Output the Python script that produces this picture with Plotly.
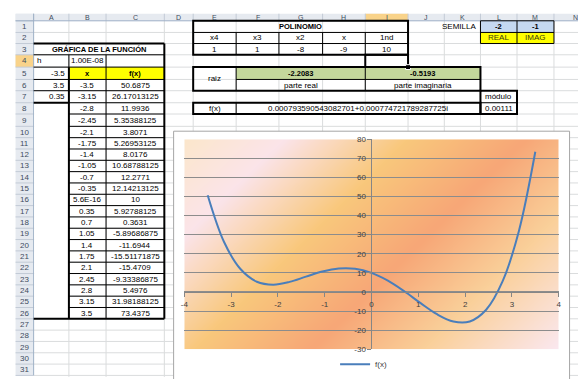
import base64
import struct
import zlib

import numpy as np
import plotly.graph_objects as go

W, H = 578, 379
FONT = "Liberation Sans"

# ---------------- worksheet data ----------------
x_vals = [-3.5, -3.15, -2.8, -2.45, -2.1, -1.75, -1.4, -1.05, -0.7, -0.35, 5.6e-16,
          0.35, 0.7, 1.05, 1.4, 1.75, 2.1, 2.45, 2.8, 3.15, 3.5]
fx_vals = [50.6875, 26.17013125, 11.9936, 5.35388125, 3.8071, 5.26953125, 8.0176,
           10.68788125, 12.2771, 12.14213125, 10, 5.92788125, 0.3631, -5.89686875,
           -11.6944, -15.51171875, -15.4709, -9.33386875, 5.4976, 31.98188125, 73.4375]

coef_labels = ["x4", "x3", "x2", "x", "1nd"]
coef_vals = [1, 1, -8, -9, 10]
range_params = [-3.5, 3.5, 0.35]          # start, end, step
h_step = 1e-8
root_real = -2.2083
root_imag = -0.5193
fx_at_root = "0.000793590543082701+0.000774721789287725i"
modulus = 0.00111
seed_vals = [-2, -1]
seed_labels = ["REAL", "IMAG"]

x_ticks = [-4, -3, -2, -1, 0, 1, 2, 3, 4]
y_ticks = [-30, -20, -10, 0, 10, 20, 30, 40, 50, 60, 70, 80]

# ---------------- sheet geometry (pixels) ----------------
COLS = "ABCDEFGHIJKLMN"
col_edges = [30, 65.7, 103.3, 162.3, 191.5, 235, 278.3, 322.5, 365.7, 409,
             445.7, 482.3, 519.3, 556.7, 600]
row_edges = [17.3, 29.3, 40.7, 52.3, 65, 77.7, 89.3, 101.7, 113.3, 126] + \
            [126 + 11.66 * k for k in range(1, 23)]
HDR_X0, HDR_Y0 = 11.7, 10.0
CHART = (171.7, 131.0, 572.5, 395.0)      # chart object frame
PLOT = (182.5, 139.3, 561.5, 355.5)       # plot area


def cl(c):
    return col_edges[COLS.index(c)]


def cr(c):
    return col_edges[COLS.index(c) + 1]


def ccx(c0, c1=None):
    return (cl(c0) + cr(c1 or c0)) / 2


def rt(r):
    return row_edges[r - 1]


def rb(r):
    return row_edges[r]


def rc(r0, r1=None):
    return (rt(r0) + rb(r1 or r0)) / 2


def px(x):
    return x / W


def py(y):
    return 1 - y / H


shapes = []
annotations = []


def rect(x0, y0, x1, y1, fill=None, line_color=None, lw=0):
    shapes.append(dict(type="rect", xref="paper", yref="paper",
                       x0=px(x0), x1=px(x1), y0=py(y1), y1=py(y0),
                       fillcolor=fill or "rgba(0,0,0,0)",
                       line=dict(color=line_color or "rgba(0,0,0,0)", width=lw),
                       layer="below"))


def seg(x0, y0, x1, y1, color="#000000", lw=1):
    shapes.append(dict(type="line", xref="paper", yref="paper",
                       x0=px(x0), x1=px(x1), y0=py(y0), y1=py(y1),
                       line=dict(color=color, width=lw), layer="below"))


def box(x0, y0, x1, y1, lw=1, color="#000000"):
    rect(x0, y0, x1, y1, line_color=color, lw=lw)


def text(x, y, s, anchor="center", bold=False, size=8, color="#000000"):
    annotations.append(dict(x=px(x), y=py(y), xref="paper", yref="paper",
                            text=f"<b>{s}</b>" if bold else s, showarrow=False,
                            xanchor=anchor, yanchor="middle",
                            font=dict(family=FONT, size=size, color=color)))


def general(v):
    if v != 0 and abs(v) < 1e-9:
        return f"{v:.1E}"
    return f"{v:.10g}"


GRID = "#DADCDD"
HDR_FILL = "#E6EAF0"
HDR_LINE = "#C3CBD6"
HDR_TEXT = "#3E4C5E"
HILITE = "#F9D38A"
BOLD_SIZE = 7.5

# ---- worksheet gridlines (kept out of the chart object) ----
for x in col_edges[1:]:
    if CHART[0] < x < CHART[2]:
        seg(x, rt(1), x, CHART[1], GRID)
    else:
        seg(x, rt(1), x, H + 5, GRID)
for y in row_edges[1:]:
    if y < CHART[1]:
        seg(cl("A"), y, W + 5, y, GRID)
    else:
        seg(cl("A"), y, CHART[0], y, GRID)
        seg(CHART[2], y, W + 5, y, GRID)

# ---- headers ----
rect(HDR_X0, HDR_Y0, W + 5, rt(1), fill=HDR_FILL)
rect(HDR_X0, HDR_Y0, cl("A"), rb(31), fill=HDR_FILL)
rect(cl("I"), HDR_Y0, cr("I"), rt(1), fill=HILITE)
rect(HDR_X0, rt(4), cl("A"), rb(4), fill=HILITE)
for x in col_edges:
    seg(x, HDR_Y0, x, rt(1), HDR_LINE)
for y in row_edges:
    seg(HDR_X0, y, cl("A"), y, HDR_LINE)
seg(HDR_X0, rt(1), W + 5, rt(1), "#9EB0C6")
seg(cl("A"), HDR_Y0, cl("A"), rb(31), "#9EB0C6")
for i, c in enumerate(COLS):
    text(ccx(c), (HDR_Y0 + rt(1)) / 2 + 0.5, c, size=7, color=HDR_TEXT)
for r in range(1, 32):
    text((HDR_X0 + cl("A")) / 2, rc(r), str(r), size=8, color=HDR_TEXT)

# ---- cell fills ----
rect(cl("A") + 0.5, rt(8), cr("A"), rb(26), fill="#FFFFFF")
rect(cl("B"), rt(5), cr("C"), rb(5), fill="#FFFF00")
rect(cl("F"), rt(5), cr("K"), rb(5), fill="#C4D79B")
rect(cl("L"), rt(1), cr("M"), rb(1), fill="#C5D9F1")
rect(cl("L"), rt(2), cr("M"), rb(2), fill="#FFFF00")

# ---- function table A3:C26 ----
seg(cl("A"), rt(3), cr("C"), rt(3), lw=2)
seg(cl("A"), rb(26), cr("C"), rb(26), lw=2)
seg(cr("C"), rt(3), cr("C"), rb(26), lw=2)
seg(cl("A"), rb(3), cr("C"), rb(3))
seg(cl("A"), rb(4), cr("C"), rb(4))
seg(cr("A"), rt(4), cr("A"), rb(4))
seg(cr("B"), rt(4), cr("B"), rb(26))
for r in (5, 6):
    seg(cl("A"), rb(r), cr("A"), rb(r))
seg(cl("A"), rb(7), cr("A"), rb(7), lw=2)
seg(cl("B"), rt(5), cl("B"), rb(26), lw=2)
for r in range(5, 26):
    seg(cl("B"), rb(r), cr("C"), rb(r))

text(ccx("A", "C"), rc(3), "GRÁFICA DE LA FUNCIÓN", bold=True, size=BOLD_SIZE)
text(cl("A") + 1.5, rc(4), "h", anchor="left")
text(ccx("B"), rc(4), f"{h_step:.2E}")
for i, v in enumerate(range_params):
    text(cr("A") - 1.5, rc(5 + i), general(v), anchor="right")
text(ccx("B"), rc(5), "x", bold=True, size=BOLD_SIZE)
text(ccx("C"), rc(5), "f(x)", bold=True, size=BOLD_SIZE)
for i, (xv, fv) in enumerate(zip(x_vals, fx_vals)):
    text(ccx("B"), rc(6 + i), general(xv))
    text(ccx("C"), rc(6 + i), general(fv))

# ---- polynomial coefficients E1:I3 ----
box(cl("E"), rt(1), cr("I"), rb(3), lw=2)
seg(cl("E"), rb(1), cr("I"), rb(1))
seg(cl("E"), rb(2), cr("I"), rb(2))
for c in "FGHI":
    seg(cl(c), rt(2), cl(c), rb(3))
text(ccx("E", "I"), rc(1), "POLINOMIO", bold=True, size=BOLD_SIZE)
for c, lab, v in zip("EFGHI", coef_labels, coef_vals):
    text(ccx(c), rc(2), lab)
    text(ccx(c), rc(3), general(v))

# active cell I4
box(cl("I"), rt(4), cr("I"), rb(4), lw=2)
rect(cr("I") - 2.5, rb(4) - 2.5, cr("I") + 2.5, rb(4) + 2.5, fill="#000000",
     line_color="#FFFFFF", lw=1)

# ---- root block E5:K6 ----
box(cl("E"), rt(5), cr("K"), rb(6), lw=2)
seg(cl("F"), rt(5), cl("F"), rb(6))
seg(cl("I"), rt(5), cl("I"), rb(6))
seg(cl("F"), rb(5), cr("K"), rb(5))
text(ccx("E"), rc(5, 6), "raiz")
text(ccx("F", "H"), rc(5), f"{root_real:.4f}", bold=True, size=BOLD_SIZE)
text(ccx("I", "K"), rc(5), f"{root_imag:.4f}", bold=True, size=BOLD_SIZE)
text(ccx("F", "H"), rc(6), "parte real")
text(ccx("I", "K"), rc(6), "parte imaginaria")

# ---- f(root) row E8:K8 and modulus L7:L8 ----
box(cl("E"), rt(8), cr("K"), rb(8), lw=2)
seg(cl("F"), rt(8), cl("F"), rb(8))
text(ccx("E"), rc(8), "f(x)")
text(ccx("F", "K"), rc(8), fx_at_root)
box(cl("L"), rt(7), cr("L"), rb(8), lw=2)
seg(cl("L"), rb(7), cr("L"), rb(7))
text(ccx("L"), rc(7), "módulo")
text(ccx("L"), rc(8), f"{modulus:.5f}")

# ---- seed K1:M2 ----
box(cl("L"), rt(1), cr("M"), rb(2), lw=1)
seg(cl("M"), rt(1), cl("M"), rb(2))
seg(cl("L"), rb(1), cr("M"), rb(1))
text(cr("K") - 2, rc(1), "SEMILLA", anchor="right")
for c, v, lab in zip("LM", seed_vals, seed_labels):
    text(ccx(c), rc(1), general(v), bold=True, size=BOLD_SIZE)
    text(ccx(c), rc(2), lab, color="#3A3A10")

# ---- chart object frame ----
box(CHART[0], CHART[1], CHART[2], CHART[3], lw=1, color="#A6A6A6")


# ---------------- plot-area gradient fill ----------------
def png_data_uri(rgb):
    h, w, _ = rgb.shape
    raw = b"".join(b"\x00" + rgb[i].tobytes() for i in range(h))

    def chunk(tag, data):
        body = tag + data
        return struct.pack(">I", len(data)) + body + struct.pack(">I", zlib.crc32(body) & 0xFFFFFFFF)

    png = (b"\x89PNG\r\n\x1a\n"
           + chunk(b"IHDR", struct.pack(">IIBBBBB", w, h, 8, 2, 0, 0, 0))
           + chunk(b"IDAT", zlib.compress(raw, 9))
           + chunk(b"IEND", b""))
    return "data:image/png;base64," + base64.b64encode(png).decode()


gw, gh = int(round(PLOT[2] - PLOT[0])), int(round(PLOT[3] - PLOT[1]))
gx, gy = np.meshgrid(np.arange(gw), np.arange(gh))
t = (gx + gy) / float(gw + gh - 2)
stops = [0.0, 0.17, 0.38, 0.58, 0.77, 1.0]
stop_cols = np.array([(251, 231, 204), (251, 228, 234), (249, 200, 124),
                      (247, 167, 119), (250, 208, 154), (251, 232, 240)], float)
grad = np.stack([np.interp(t, stops, stop_cols[:, k]) for k in range(3)], axis=-1)
grad_uri = png_data_uri(np.clip(grad, 0, 255).astype(np.uint8))

# ---------------- chart ----------------
xr = [x_ticks[0], x_ticks[-1]]
yr = [y_ticks[0], y_ticks[-1]]
xdom = [PLOT[0] / W, PLOT[2] / W]
ydom = [1 - PLOT[3] / H, 1 - PLOT[1] / H]
x_cross = xdom[0] + (0 - xr[0]) / (xr[1] - xr[0]) * (xdom[1] - xdom[0])
y_cross = ydom[0] + (0 - yr[0]) / (yr[1] - yr[0]) * (ydom[1] - ydom[0])

fig = go.Figure()
fig.add_trace(go.Scatter(
    x=x_vals, y=fx_vals, mode="lines", name="f(x)",
    line=dict(color="#4A7EBB", width=2, shape="spline", smoothing=1.0),
))

axis_font = dict(family=FONT, size=8, color="#404040")
fig.update_layout(
    width=W, height=H,
    margin=dict(l=0, r=0, t=0, b=0),
    paper_bgcolor="#FFFFFF",
    plot_bgcolor="#FFFFFF",
    shapes=shapes,
    annotations=annotations,
    images=[dict(source=grad_uri, xref="x", yref="y", x=xr[0], y=yr[1],
                 sizex=xr[1] - xr[0], sizey=yr[1] - yr[0], xanchor="left",
                 yanchor="top", sizing="stretch", layer="below")],
    xaxis=dict(domain=xdom, range=xr, anchor="free", position=y_cross,
               showgrid=False, zeroline=False, showline=True, linecolor="#868686",
               linewidth=1, ticks="outside", ticklen=4, tickcolor="#868686",
               tickvals=x_ticks, ticktext=[str(v) for v in x_ticks],
               tickfont=axis_font, fixedrange=True),
    yaxis=dict(domain=ydom, range=yr, anchor="free", position=x_cross,
               showgrid=True, gridcolor="#8C8C8C", gridwidth=1, zeroline=False,
               showline=True, linecolor="#868686", linewidth=1, ticks="outside",
               ticklen=4, tickcolor="#868686",
               tickvals=y_ticks, ticktext=[str(v) for v in y_ticks],
               tickfont=axis_font, fixedrange=True),
    showlegend=True,
    legend=dict(orientation="h", x=364 / W, xanchor="center",
                y=1 - 371 / H, yanchor="middle", bgcolor="rgba(0,0,0,0)",
                font=dict(family=FONT, size=8, color="#404040"),
                itemwidth=30),
)

fig.write_html("out.html")
